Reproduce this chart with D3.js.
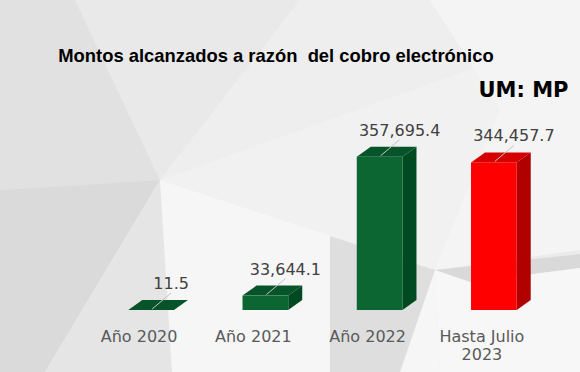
<!DOCTYPE html>
<html>
<head>
<meta charset="utf-8">
<script src="https://cdn.jsdelivr.net/npm/d3@7"></script>
<style>
  html, body { margin: 0; padding: 0; background: #ebebeb; }
  svg { display: block; }
</style>
</head>
<body>
<div id="chart"></div>
<script>
const categories = ['Año 2020', 'Año 2021', 'Año 2022', 'Hasta Julio 2023'];
const tickLabels = [['Año 2020'], ['Año 2021'], ['Año 2022'], ['Hasta Julio', '2023']];
const values = [11.5, 33644.1, 357695.4, 344457.7];

const W = 580, H = 372;
const depth = { dx: 14, dy: 10 };

const svg = d3.select('#chart').append('svg')
  .attr('width', W).attr('height', H);

// background facets
const bg = svg.append('g');
bg.append('rect').attr('width', W).attr('height', H).attr('fill', '#ebebeb');
const facets = [
  { p: [[0,0],[75,0],[160,180],[0,190]], c: '#e1e1e1' },
  { p: [[0,190],[160,180],[45,372],[0,372]], c: '#dadada' },
  { p: [[160,180],[172,372],[45,372]], c: '#e5e5e5' },
  { p: [[75,0],[300,0],[160,180]], c: '#e9e9e9' },
  { p: [[300,0],[580,0],[580,30],[160,180]], c: '#eeeeee' },
  { p: [[160,180],[580,30],[580,60],[435,270]], c: '#f1f1f1' },
  { p: [[430,0],[580,0],[580,250],[435,270],[500,110]], c: '#f4f4f4' },
  { p: [[160,180],[435,270],[440,372],[172,372]], c: '#f6f6f6' },
  { p: [[330,236],[435,270],[400,372],[330,372]], c: '#dedede' },
  { p: [[435,270],[580,254],[580,268],[470,282]], c: '#d9d9d9' },
  { p: [[435,270],[470,282],[580,268],[580,372],[440,372]], c: '#f7f7f7' }
];
bg.selectAll('polygon').data(facets).enter().append('polygon')
  .attr('points', d => d.p.join(' '))
  .attr('fill', d => d.c);

const x = d3.scaleBand()
  .domain(categories)
  .range([94, 551])
  .paddingInner(0.6)
  .paddingOuter(0.3);

const y = d3.scaleLinear()
  .domain([0, 400000])
  .range([310, 138.6]);

const frontColor = d3.scaleOrdinal(categories, ['#0b6631', '#0b6631', '#0b6631', '#ff0000']);
const topColor = d3.scaleOrdinal(categories, ['#08542a', '#08542a', '#08542a', '#d40000']);
const sideColor = d3.scaleOrdinal(categories, ['#004a22', '#004a22', '#004a22', '#b00000']);

const data = categories.map((c, i) => ({ cat: c, value: values[i] }));
const fmt = d3.format(',.1f');

// x axis labels
const axis = svg.append('g')
  .attr('transform', `translate(-12,${y(0)})`)
  .call(d3.axisBottom(x).tickSize(0).tickPadding(20.6));
axis.select('.domain').remove();
axis.selectAll('.tick text')
  .attr('font-family', '"DejaVu Sans", Verdana, sans-serif')
  .attr('font-size', 16)
  .attr('fill', '#595959')
  .each(function(d, i) {
    const t = d3.select(this).text('');
    tickLabels[i].forEach((s, k) => {
      t.append('tspan').attr('x', 0).attr('dy', k === 0 ? '0.71em' : '1.1em').text(s);
    });
  });

// bars
const bars = svg.append('g').selectAll('g').data(data).enter().append('g');
const bw = x.bandwidth();

bars.append('polygon')
  .attr('points', d => {
    const x0 = x(d.cat), yt = y(d.value), yb = y(0);
    return [[x0 + bw, yt], [x0 + bw + depth.dx, yt - depth.dy], [x0 + bw + depth.dx, yb - depth.dy], [x0 + bw, yb]].join(' ');
  })
  .attr('fill', d => sideColor(d.cat));

bars.append('polygon')
  .attr('points', d => {
    const x0 = x(d.cat), yt = y(d.value);
    return [[x0, yt], [x0 + bw, yt], [x0 + bw + depth.dx, yt - depth.dy], [x0 + depth.dx, yt - depth.dy]].join(' ');
  })
  .attr('fill', d => topColor(d.cat));

bars.append('rect')
  .attr('x', d => x(d.cat))
  .attr('y', d => y(d.value))
  .attr('width', bw)
  .attr('height', d => y(0) - y(d.value))
  .attr('fill', d => frontColor(d.cat));

// leader lines + value labels
bars.append('line')
  .attr('x1', d => x(d.cat) + bw / 2 + 20)
  .attr('y1', d => y(d.value) - 17)
  .attr('x2', d => x(d.cat) + bw / 2 + 1)
  .attr('y2', d => y(d.value) - 1)
  .attr('stroke', '#c4c4c4')
  .attr('stroke-width', 1);

bars.append('text')
  .attr('x', d => x(d.cat) + bw / 2 + 20)
  .attr('y', d => y(d.value) - 21)
  .attr('text-anchor', 'middle')
  .attr('font-family', '"DejaVu Sans", Verdana, sans-serif')
  .attr('font-size', 16)
  .attr('fill', '#404040')
  .text(d => fmt(d.value));

// titles
svg.append('text')
  .attr('x', 58.3).attr('y', 62)
  .attr('font-family', '"Liberation Sans", Arial, sans-serif')
  .attr('font-weight', 'bold')
  .attr('font-size', 18.4)
  .attr('fill', '#000')
  .style('white-space', 'pre')
  .text('Montos alcanzados a razón  del cobro electrónico');

svg.append('text')
  .attr('x', 568.5).attr('y', 96.7)
  .attr('text-anchor', 'end')
  .attr('font-family', '"DejaVu Sans", Verdana, sans-serif')
  .attr('font-weight', 'bold')
  .attr('font-size', 21)
  .attr('fill', '#000')
  .text('UM: MP');
</script>
</body>
</html>
